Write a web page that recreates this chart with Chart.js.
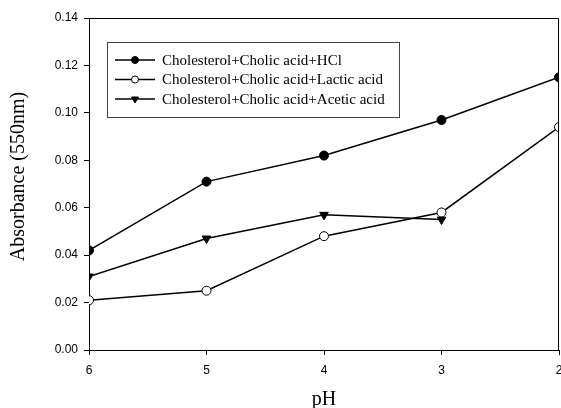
<!DOCTYPE html>
<html>
<head>
<meta charset="utf-8">
<script src="https://cdn.jsdelivr.net/npm/chart.js@4"></script>
<style>
  html, body { margin: 0; padding: 0; background: #fff; overflow: hidden; }
  #wrap { width: 561px; height: 408px; overflow: hidden; }
</style>
</head>
<body>
<div id="wrap"><canvas id="chart" width="565" height="408"></canvas></div>
<script>
// pH values on the x axis (reversed: 6 on the left, 2 on the right)
const phValues = [6, 5, 4, 3, 2];
const hclValues = [0.042, 0.071, 0.082, 0.097, 0.115];
const lacticValues = [0.021, 0.025, 0.048, 0.058, 0.094];
const aceticValues = [0.031, 0.047, 0.057, 0.055, null];
const seriesNames = [
  'Cholesterol+Cholic acid+HCl',
  'Cholesterol+Cholic acid+Lactic acid',
  'Cholesterol+Cholic acid+Acetic acid'
];
const yTicks = [0, 0.02, 0.04, 0.06, 0.08, 0.10, 0.12, 0.14];

const SERIF = "'Liberation Serif', 'Times New Roman', serif";
const SANS = "'Liberation Sans', Arial, sans-serif";

const toPoints = vals => phValues.map((x, i) => ({ x, y: vals[i] })).filter(p => p.y !== null);

// box round the plot + legend inside it
const framePlugin = {
  id: 'frame',
  afterDraw(chart) {
    const { ctx, chartArea: a } = chart;
    ctx.save();
    ctx.strokeStyle = '#000';
    ctx.lineWidth = 1;
    ctx.beginPath();
    ctx.moveTo(a.left, a.top + 0.5);
    ctx.lineTo(a.right - 0.5, a.top + 0.5);
    ctx.lineTo(a.right - 0.5, a.bottom);
    ctx.stroke();

    // legend
    const lx = a.left + 18, ly = a.top + 24, lw = 292, lh = 75;
    ctx.strokeStyle = '#444';
    ctx.strokeRect(lx + 0.5, ly + 0.5, lw, lh);
    ctx.font = '15px ' + SERIF;
    ctx.textBaseline = 'middle';
    ctx.textAlign = 'left';
    chart.data.datasets.forEach((ds, i) => {
      const cy = ly + 18 + i * 19.5;
      ctx.strokeStyle = '#000';
      ctx.lineWidth = 1.4;
      ctx.beginPath();
      ctx.moveTo(lx + 8, cy);
      ctx.lineTo(lx + 48, cy);
      ctx.stroke();
      ctx.fillStyle = ds.pointBackgroundColor;
      ctx.lineWidth = 1;
      Chart.helpers.drawPoint(ctx, {
        pointStyle: ds.pointStyle,
        radius: ds.pointRadius - 1,
        rotation: ds.rotation || 0,
        borderWidth: 1
      }, lx + 28, cy);
      ctx.fillStyle = '#000';
      ctx.fillText(ds.label, lx + 55, cy + 1);
    });
    ctx.restore();
  }
};

const common = {
  borderColor: '#000',
  borderWidth: 1.5,
  pointBorderColor: '#000',
  pointBorderWidth: 1,
  tension: 0,
  fill: false
};

new Chart(document.getElementById('chart'), {
  type: 'line',
  data: {
    datasets: [
      { ...common, label: seriesNames[0], data: toPoints(hclValues),
        pointStyle: 'circle', pointRadius: 4.5, pointBackgroundColor: '#000' },
      { ...common, label: seriesNames[1], data: toPoints(lacticValues),
        pointStyle: 'circle', pointRadius: 4.5, pointBackgroundColor: '#fff' },
      { ...common, label: seriesNames[2], data: toPoints(aceticValues),
        pointStyle: 'triangle', pointRadius: 5, rotation: 180, pointBackgroundColor: '#000' }
    ]
  },
  options: {
    responsive: false,
    animation: false,
    layout: { padding: { left: 0, right: 0, top: 18, bottom: 0 } },
    plugins: { legend: { display: false }, tooltip: { enabled: false } },
    scales: {
      x: {
        type: 'linear',
        reverse: true,
        min: 2,
        max: 6,
        afterFit(s) { s.height = 58; s.paddingRight = 0; s.paddingLeft = 0; },
        afterBuildTicks(s) { s.ticks = phValues.map(v => ({ value: v })); },
        ticks: { color: '#000', font: { family: SANS, size: 12 }, padding: 8, maxRotation: 0 },
        grid: { display: true, drawOnChartArea: false, drawTicks: true, tickLength: 5, color: '#000' },
        border: { display: true, color: '#000', width: 1 },
        title: { display: true, text: 'pH', color: '#000',
          font: { family: SERIF, size: 20, lineHeight: 0.8 }, padding: { top: 0, bottom: 0 } }
      },
      y: {
        min: 0,
        max: 0.14,
        afterFit(s) { s.width = 89; },
        afterBuildTicks(s) { s.ticks = yTicks.map(v => ({ value: v })); },
        ticks: { color: '#000', font: { family: SANS, size: 12 }, padding: 6,
          callback: v => v.toFixed(2) },
        grid: { display: true, drawOnChartArea: false, drawTicks: true, tickLength: 5, color: '#000' },
        border: { display: true, color: '#000', width: 1 },
        title: { display: true, text: '   Absorbance (550nm)', color: '#000',
          font: { family: SERIF, size: 20 }, padding: { top: 7, bottom: 0 } }
      }
    }
  },
  plugins: [framePlugin]
});
</script>
</body>
</html>
